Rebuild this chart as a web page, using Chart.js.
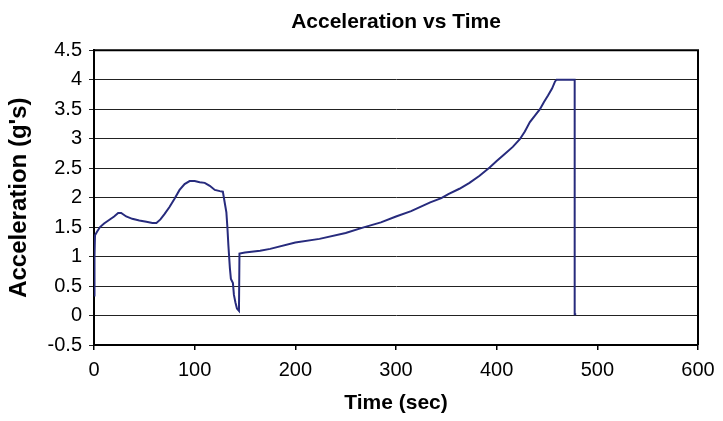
<!DOCTYPE html>
<html>
<head>
<meta charset="utf-8">
<script src="https://cdn.jsdelivr.net/npm/chart.js@4/dist/chart.umd.min.js"></script>
<style>
  html, body { margin: 0; padding: 0; background: #fff; }
  #wrap { width: 723px; height: 421px; }
</style>
</head>
<body>
<div id="wrap"><canvas id="myChart" width="723" height="421"></canvas></div>
<script>
// values
const timeSec = [0, 0.5, 1, 3, 6, 10, 15, 20, 24, 27, 32, 38, 45, 52, 58, 62, 66, 70, 75, 80, 85, 90, 95, 100, 105, 110, 115, 120, 125, 128, 130, 131.5, 132.5, 133.5, 135, 136, 138, 139, 140.5, 142, 144, 144.5, 150, 165, 175, 200, 224, 250, 267, 285, 300, 315, 334, 345, 352, 363, 373, 383, 393, 400, 408, 416, 423, 428, 433, 438, 443, 447, 451, 455, 458, 459.5, 477.5, 477.5, 479]
const accelG = [0.34, 1.0, 1.36, 1.42, 1.50, 1.56, 1.62, 1.68, 1.74, 1.74, 1.68, 1.64, 1.61, 1.59, 1.57, 1.57, 1.63, 1.72, 1.84, 1.98, 2.13, 2.23, 2.28, 2.28, 2.26, 2.25, 2.20, 2.13, 2.11, 2.10, 1.90, 1.75, 1.50, 1.19, 0.80, 0.62, 0.55, 0.35, 0.22, 0.12, 0.08, 1.05, 1.07, 1.10, 1.13, 1.24, 1.30, 1.40, 1.49, 1.58, 1.68, 1.77, 1.92, 1.99, 2.06, 2.15, 2.25, 2.37, 2.51, 2.62, 2.74, 2.86, 2.99, 3.12, 3.28, 3.39, 3.50, 3.62, 3.73, 3.85, 3.97, 4.0, 4.0, 0.02, 0.02]
const xTicks = [0, 100, 200, 300, 400, 500, 600]
const yTicks = [-0.5, 0, 0.5, 1, 1.5, 2, 2.5, 3, 3.5, 4, 4.5]

const FONT = "'Liberation Sans', Arial, sans-serif"

// top and right edges of the plot box, title centred over the plot
const plotFrame = {
    id: 'plotFrame',
    afterLayout(chart) {
        const tb = chart.titleBlock, a = chart.chartArea
        if (tb) { tb.left = a.left; tb.right = a.right; tb.width = a.right - a.left }
    },
    beforeDatasetsDraw(chart) {
        const {ctx, chartArea: a} = chart
        ctx.save()
        ctx.strokeStyle = '#000'
        ctx.lineWidth = 2
        ctx.beginPath()
        ctx.moveTo(a.left, a.top)
        ctx.lineTo(a.right, a.top)
        ctx.lineTo(a.right, a.bottom)
        ctx.stroke()
        ctx.restore()
    }
}

const ctx = document.getElementById('myChart').getContext('2d')
const myChart = new Chart(ctx, {
    type: 'line',
    data: {
        datasets: [{
            label: 'Acceleration',
            data: timeSec.map((t, i) => ({x: t, y: accelG[i]})),
            borderColor: '#272b7d',
            borderWidth: 2,
            pointRadius: 0,
            tension: 0,
            fill: false
        }]
    },
    options: {
        responsive: false,
        animation: false,
        layout: { padding: { left: 0, right: 25, top: 0, bottom: 0 } },
        plugins: {
            legend: { display: false },
            tooltip: { enabled: false },
            title: {
                display: true,
                text: 'Acceleration vs Time',
                color: '#000',
                font: { family: FONT, size: 21, weight: 'bold' },
                padding: { top: 10, bottom: 15 }
            }
        },
        scales: {
            x: {
                type: 'linear',
                min: 0,
                max: 600,
                afterFit: s => { s.height = 76 },
                afterBuildTicks: s => { s.ticks = xTicks.map(v => ({value: v})) },
                grid: { drawOnChartArea: false, drawTicks: true, tickLength: 5, color: '#000', lineWidth: 1.5 },
                border: { display: true, color: '#000', width: 2 },
                ticks: { color: '#000', padding: 8, maxRotation: 0, font: { family: FONT, size: 20 }, callback: v => String(v) },
                title: { display: true, text: 'Time (sec)', color: '#000', font: { family: FONT, size: 21, weight: 'bold' }, padding: { top: 4, bottom: 5 } }
            },
            y: {
                min: -0.5,
                max: 4.5,
                afterFit: s => { s.width = 94 },
                afterBuildTicks: s => { s.ticks = yTicks.map(v => ({value: v})) },
                grid: { color: '#222', lineWidth: 1, drawTicks: true, tickLength: 5 },
                border: { display: true, color: '#000', width: 2 },
                ticks: { color: '#000', padding: 7, font: { family: FONT, size: 20 }, callback: v => String(v) },
                title: { display: true, text: "Acceleration (g's)", color: '#000', font: { family: FONT, size: 24, weight: 'bold' }, padding: { top: 5, bottom: 4 } }
            }
        }
    },
    plugins: [plotFrame]
})
</script>
</body>
</html>
